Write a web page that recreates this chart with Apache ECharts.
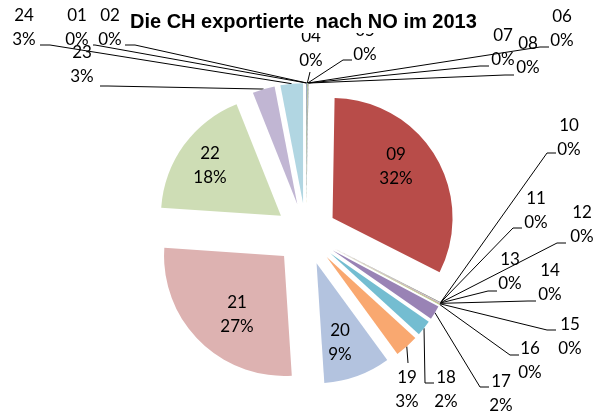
<!DOCTYPE html>
<html>
<head>
<meta charset="utf-8">
<script src="https://cdn.jsdelivr.net/npm/echarts/dist/echarts.min.js"></script>
<style>
  html, body { margin: 0; padding: 0; background: #fff; }
  #chart { width: 598px; height: 415px; }
</style>
</head>
<body>
<div id="chart"></div>
<script>
// chapters exported CH -> NO, 2013 (in %)
const categories = ['01', '02', '04', '05', '06', '07', '08', '09', '10', '11', '12',
  '13', '14', '15', '16', '17', '18', '19', '20', '21', '22', '23', '24'];
const values = [0.08, 0.02, 0.08, 0.02, 0.02, 0.02, 0.03, 32.2, 0.03, 0.02, 0.02,
  0.03, 0.05, 0.05, 0.1, 1.9, 2.1, 3.2, 9.0, 27.1, 17.9, 3.0, 3.03];
const insideLabels = ['09', '20', '21', '22'];

// excel-like palette, one per slice
const colors = ['#4A7EBB', '#BE4B48', '#98B954', '#7D60A0', '#46AAC5', '#F69240',
  '#2C4D75', '#B84C49', '#5F7530', '#4D3B62', '#276A7C', '#B65708', '#729ACA',
  '#CD7371', '#AFC97A', '#9983B5', '#74BDD1', '#F9A870', '#B3C3DF', '#DDB2B1',
  '#CEDDB5', '#C1B6D3', '#B1D6E2'];

// label placement (centre of the two-line label) and leader line elbow / end
const labelPos = [
  [77, 28], [110, 28], [311, 49], [365, 43], [562, 29], [503, 48], [528, 56],
  [396, 167], [569, 138], [536, 211], [582, 225], [510, 272], [550, 283],
  [570, 337], [530, 361], [501, 394], [446, 390], [407, 390], [340, 343],
  [237, 315], [210, 166], [82, 65], [24, 28]
];
const leaders = [
  [[95, 45], [93, 45]], [[135, 45], [125, 45]], [[310, 72], [310, 72]],
  [[343, 60], [352, 60]], [[540, 47], [549, 47]], [[480, 66], [489, 66]],
  [[505, 75], [514, 75]], null, [[547, 153], [556, 153]], [[513, 228], [522, 228]],
  [[557, 243], [566, 243]], [[488, 291], [497, 291]], [[528, 301], [536, 301]],
  [[547, 330], [556, 330]], [[510, 355], [519, 355]], [[480, 387], [489, 387]],
  [[425, 383], [434, 383]], [[408, 363], [408, 363]], null, null, null,
  [[108, 86], [100, 86]], [[50, 45], [40, 45]]
];

const PIE_CX = 306, PIE_CY = 234, PIE_R = 120, EXPLODE = 31;

const total = values.reduce((a, b) => a + b, 0);
const midAngles = [];
let acc = 0;
values.forEach(v => {
  midAngles.push((acc + v / 2) / total * 2 * Math.PI);
  acc += v;
});

const chart = echarts.init(document.getElementById('chart'));

// exploded slices (every slice "selected")
const sliceData = categories.map((c, i) => ({
  name: c,
  value: values[i],
  selected: true,
  itemStyle: { color: colors[i] }
}));

// same slices again, invisible, only to carry the labels
const labelData = categories.map((c, i) => ({
  name: c,
  value: values[i],
  labelLine: { show: insideLabels.indexOf(c) < 0 }
}));

const option = {
  animation: false,
  title: {
    text: 'Die CH exportierte  nach NO im 2013',
    left: 124,
    top: 10,
    padding: [2, 6, 1, 6],
    backgroundColor: '#fff',
    textStyle: {
      fontFamily: 'Liberation Sans',
      fontSize: 20,
      fontWeight: 'bold',
      color: '#000'
    }
  },
  series: [
    {
      type: 'pie',
      center: [PIE_CX, PIE_CY],
      radius: PIE_R,
      startAngle: 90,
      clockwise: true,
      selectedMode: 'multiple',
      selectedOffset: EXPLODE,
      emphasis: { disabled: true },
      itemStyle: { borderWidth: 0 },
      label: { show: false },
      labelLine: { show: false },
      data: sliceData
    },
    {
      type: 'pie',
      center: [PIE_CX, PIE_CY],
      radius: PIE_R,
      startAngle: 90,
      clockwise: true,
      silent: true,
      avoidLabelOverlap: false,
      emphasis: { disabled: true },
      itemStyle: { color: 'rgba(0,0,0,0)', borderWidth: 0 },
      label: {
        show: true,
        position: 'outside',
        color: '#000',
        fontFamily: 'Lato',
        fontSize: 17,
        lineHeight: 24,
        align: 'center',
        formatter: p => p.name + '\n' + Math.round(p.value / total * 100) + '%'
      },
      labelLine: {
        show: true,
        length: 10,
        length2: 10,
        lineStyle: { color: '#000', width: 1 }
      },
      labelLayout: function (p) {
        const i = p.dataIndex;
        const out = {
          x: labelPos[i][0],
          y: labelPos[i][1],
          align: 'center',
          verticalAlign: 'middle'
        };
        if (leaders[i]) {
          const d = PIE_R + EXPLODE;
          const sx = PIE_CX + d * Math.sin(midAngles[i]);
          const sy = PIE_CY - d * Math.cos(midAngles[i]);
          out.labelLinePoints = [[sx, sy], leaders[i][0], leaders[i][1]];
        }
        return out;
      },
      data: labelData
    }
  ]
};

chart.setOption(option);
window.addEventListener('resize', () => chart.resize());
</script>
</body>
</html>
